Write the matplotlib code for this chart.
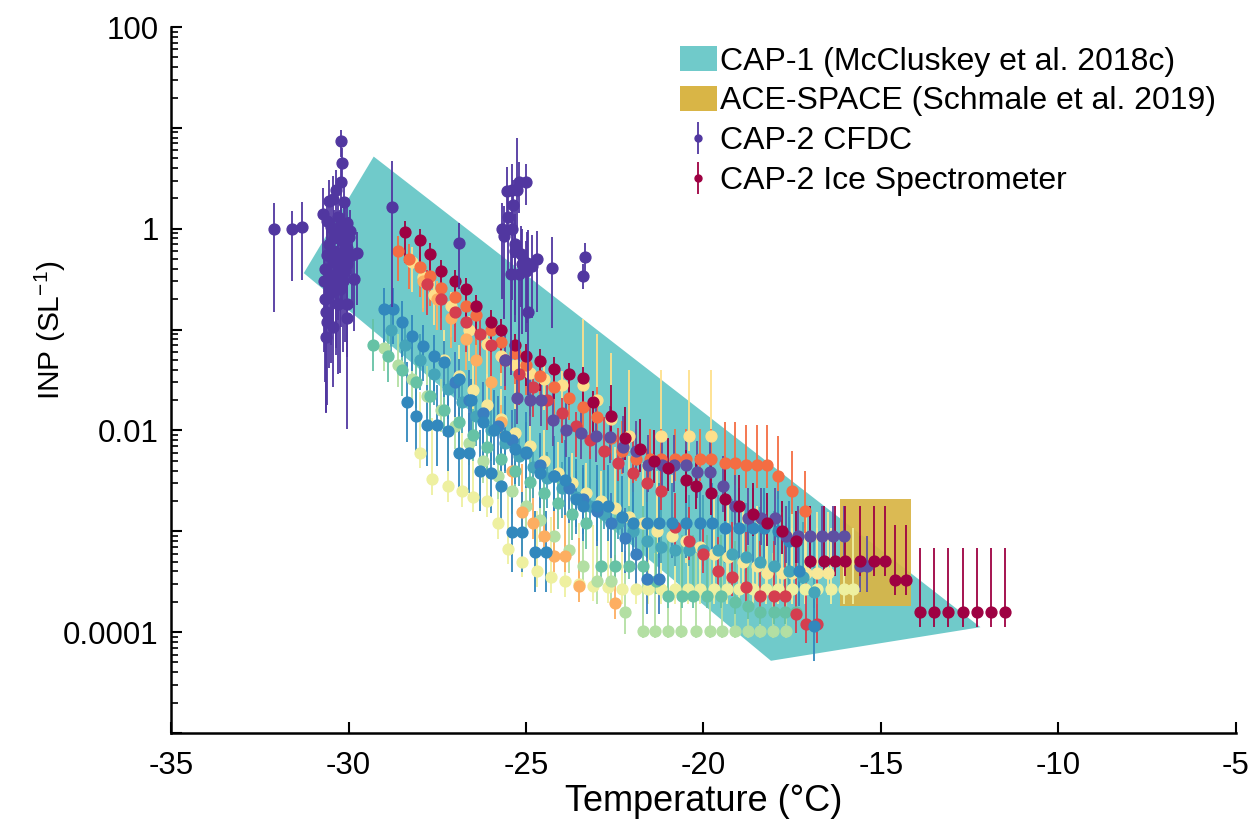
import numpy as np
import matplotlib
matplotlib.use('Agg')
import matplotlib.pyplot as plt
from matplotlib.patches import Polygon, Rectangle, Patch
from matplotlib.ticker import FixedLocator, LogLocator, NullFormatter

plt.rcParams['font.family'] = ['Liberation Sans', 'DejaVu Sans']
plt.rcParams['mathtext.fontset'] = 'custom'
plt.rcParams['mathtext.rm'] = 'Liberation Sans'
plt.rcParams['mathtext.default'] = 'regular'
plt.rcParams['axes.unicode_minus'] = False

# ---------------- data ----------------
cap1_T = [-29.29, -12.2, -18.1, -31.26]
cap1_V = [5.19, 1.12e-4, 5.2e-5, 0.363]
ace_T = [-16.15, -14.15]
ace_V = [1.8e-4, 2.07e-3]

# CAP-2 CFDC: temperature, INP, lower-bound factor, upper-bound factor
cfdc_t = [-30.20, -30.17, -30.20, -30.34, -30.45, -30.54, -30.73, -30.12, -32.10, -31.60,
          -31.30, -30.03, -29.98, -29.75, -29.84, -30.34, -30.17, -30.45, -30.48, -30.31,
          -30.03, -30.62, -30.03, -30.62, -30.45, -30.60, -30.50, -30.40, -30.30, -30.25,
          -30.15, -30.10, -30.05, -29.95, -30.55, -30.40, -30.30, -30.20, -30.10, -30.60,
          -30.65, -30.50, -30.35, -30.25, -30.55, -30.70, -30.15, -30.05, -29.90, -30.40,
          -30.20, -30.65, -30.60,
          -25.54, -25.40, -25.20, -25.01, -25.37, -25.63, -25.40, -25.32, -25.15, -24.98,
          -24.70, -24.84, -25.43, -25.20, -25.01, -24.28, -24.95, -25.50, -25.30, -25.10,
          -25.68, -25.26, -23.35, -23.40, -26.90, -28.77]
cfdc_v = [7.4, 4.5, 2.9, 2.4, 1.95, 1.9, 1.4, 1.86, 1.0, 1.0,
          1.03, 1.15, 0.82, 0.58, 0.32, 0.33, 0.58, 0.47, 0.235, 0.18,
          0.18, 0.148, 0.13, 0.085, 0.107, 1.2, 1.05, 0.95, 1.3, 0.9,
          0.75, 1.0, 0.65, 0.95, 0.7, 0.6, 0.5, 0.42, 0.38, 0.55,
          0.4, 0.35, 0.28, 0.25, 0.28, 0.3, 0.3, 0.45, 0.55, 0.8,
          1.1, 0.2, 0.12,
          2.39, 2.44, 2.89, 2.89, 1.70, 0.84, 0.99, 0.70, 0.56, 0.46,
          0.50, 0.43, 0.355, 0.355, 0.38, 0.41, 0.148, 1.30, 0.60, 0.45,
          1.00, 2.40, 0.52, 0.34, 0.72, 1.66]
cfdc_dn = [0.7, 0.6, 0.5, 0.5, 0.45, 0.5, 0.4, 0.5, 0.15, 0.3,
           0.3, 0.4, 0.35, 0.3, 0.3, 0.2, 0.3, 0.25, 0.2, 0.2,
           0.3, 0.1, 0.08, 0.18, 0.25, 0.4, 0.35, 0.35, 0.4, 0.3,
           0.3, 0.35, 0.3, 0.4, 0.3, 0.3, 0.25, 0.25, 0.2, 0.25,
           0.2, 0.2, 0.2, 0.15, 0.15, 0.2, 0.2, 0.25, 0.3, 0.3,
           0.35, 0.15, 0.15,
           0.4, 0.35, 0.5, 0.6, 0.3, 0.15, 0.2, 0.2, 0.3, 0.25,
           0.3, 0.3, 0.1, 0.1, 0.25, 0.25, 0.15, 0.3, 0.2, 0.2,
           0.2, 0.4, 0.7, 0.75, 0.35, 0.1]
cfdc_up = [1.3, 1.4, 1.6, 1.6, 1.7, 1.6, 1.8, 1.6, 1.8, 1.5,
           1.8, 1.6, 1.6, 1.6, 1.6, 1.8, 1.7, 1.7, 1.8, 2.0,
           1.8, 2.0, 2.0, 2.2, 2.0, 1.6, 1.6, 1.6, 1.6, 1.7,
           1.7, 1.6, 1.7, 1.6, 1.7, 1.7, 1.8, 1.8, 1.8, 1.8,
           1.8, 1.8, 1.9, 1.9, 1.9, 1.9, 1.9, 1.8, 1.7, 1.7,
           1.6, 2.0, 2.0,
           1.7, 1.8, 1.6, 1.5, 1.8, 2.0, 1.8, 2.0, 1.9, 2.0,
           1.9, 2.0, 2.0, 2.0, 2.0, 2.0, 6.5, 1.8, 2.5, 2.2,
           1.8, 3.3, 1.4, 1.3, 1.6, 2.85]

# CAP-2 Ice Spectrometer samples
t_dr = [-28.4, -28.0, -27.7, -27.4, -27.0, -26.7, -26.4, -26.0, -25.7, -25.3, -25.0, -24.6, -24.2,
        -23.8, -23.4, -23.1, -22.6, -22.2, -21.8, -21.4, -21.0, -20.5, -20.2, -19.8, -19.4, -19.0,
        -18.6, -18.2, -17.8, -17.4, -17.0, -16.6, -16.3, -16.0, -15.6, -15.2, -14.9, -14.6, -14.3,
        -13.9, -13.5, -13.1, -12.7, -12.3, -11.9, -11.5]
v_dr = [0.92, 0.77, 0.56, 0.38, 0.30, 0.25, 0.17, 0.12, 0.099, 0.070, 0.055, 0.049, 0.041,
        0.036, 0.033, 0.019, 0.014, 0.0085, 0.0065, 0.005, 0.0042, 0.0032, 0.0028, 0.0024, 0.0021,
        0.0018, 0.0015, 0.0012, 0.001, 8e-4, 5.1e-4, 5.1e-4, 5.1e-4, 5.1e-4, 5.1e-4, 5.1e-4, 5.1e-4,
        3.3e-4, 3.3e-4, 1.6e-4, 1.6e-4, 1.6e-4, 1.6e-4, 1.6e-4, 1.6e-4, 1.6e-4]
up_dr = [1.3] * 16 + [2.0] * 14 + [3.5] * 9 + [4.3] * 7
dn_dr = [0.5] * 16 + [0.6] * 14 + [0.7] * 16

t_cr = [-27.8, -27.4, -27.0, -26.7, -26.3, -26.0, -25.6, -25.2, -24.8, -24.4, -24.0, -23.6, -23.2,
        -22.8, -22.4, -22.0, -21.6, -21.2, -20.8, -20.4, -20.0, -19.6, -19.2, -18.8, -18.4, -18.0,
        -17.7, -17.4, -17.1, -16.8]
v_cr = [0.28, 0.2, 0.15, 0.12, 0.09, 0.07, 0.05, 0.036, 0.027, 0.02, 0.015, 0.011, 0.008,
        0.0062, 0.0048, 0.0038, 0.003, 0.0025, 0.0011, 8e-4, 6e-4, 4e-4, 3.5e-4, 2.8e-4, 2.3e-4,
        2.3e-4, 2.3e-4, 1.5e-4, 1.2e-4, 1.2e-4]
up_cr = [1.4] * 12 + [2.2] * 10 + [3.5] * 8
dn_cr = [0.5] * 12 + [0.65] * 18

t_or1 = [-28.6, -28.3, -28.0, -27.7, -27.4, -27.0, -26.7, -26.4, -26.0, -25.7, -25.3, -25.0, -24.6,
         -24.2, -23.8, -23.4, -23.0, -22.6, -22.3, -21.9, -21.5, -21.2, -20.8, -20.5, -20.1, -19.8,
         -19.4, -19.1, -18.8, -18.5, -18.2, -17.9, -17.5, -17.15]
v_or1 = [0.60, 0.5, 0.42, 0.34, 0.26, 0.21, 0.17, 0.14, 0.10, 0.075, 0.058, 0.045, 0.035,
         0.027, 0.021, 0.017, 0.0135, 0.0085, 0.0062, 0.0052, 0.0052, 0.0052, 0.0052, 0.0052, 0.0052,
         0.0052, 0.0048, 0.0048, 0.0045, 0.0045, 0.0045, 0.0035, 0.0025, 0.0016]
up_or1 = [1.4] * 14 + [2.0] * 12 + [2.5] * 8
dn_or1 = [0.5] * 14 + [0.6] * 20

t_or = [-27.9, -27.5, -27.1, -26.7, -26.4, -26.0, -25.7, -25.4, -25.1, -24.8, -24.5, -24.2, -23.9,
        -23.5, -22.5]
v_or = [0.3, 0.2, 0.13, 0.08, 0.05, 0.03, 0.012, 0.004, 0.00155, 0.0012, 8.9e-4, 5.7e-4, 5.7e-4,
        2.85e-4, 1.95e-4]
up_or = [1.5] * 7 + [3.0] * 8
dn_or = [0.5] * 7 + [0.7] * 8

t_y = [-28.2, -27.9, -27.6, -27.1, -26.6, -26.1, -25.7, -25.3, -24.9, -24.5, -24.0, -23.4, -23.0,
       -22.6, -22.1, -21.2, -20.4, -19.8]
v_y = [0.47, 0.33, 0.22, 0.17, 0.098, 0.072, 0.055, 0.045, 0.037, 0.032, 0.028, 0.028, 0.02,
       0.013, 0.0089, 0.0089, 0.0089, 0.0089]
up_y = [1.4] * 11 + [4.5] * 7
dn_y = [0.5] * 11 + [0.7] * 7

t_y2 = [-27.3, -26.9, -26.5, -26.1, -25.7, -25.3, -24.9, -24.5, -24.1, -23.7, -23.3, -22.9, -22.5,
        -22.1, -21.7, -21.3, -20.9, -20.5, -20.1, -19.7, -19.3, -18.9, -18.5, -18.2, -17.8, -17.5,
        -17.1, -16.8, -16.5]
v_y2 = [0.05, 0.035, 0.025, 0.018, 0.013, 0.0095, 0.007, 0.005, 0.0038, 0.003, 0.0024, 0.002,
        0.0017, 0.0014, 0.0012, 0.001, 9e-4, 8e-4, 7e-4, 6e-4, 5.5e-4, 5e-4, 4.5e-4, 3.9e-4,
        3.9e-4, 3.9e-4, 3.9e-4, 3.9e-4, 3.9e-4]
up_y2 = [2.0] * 12 + [4.0] * 17
dn_y2 = [0.6] * 29

t_yg = [-28.0, -27.65, -27.2, -26.8, -26.5, -26.1, -25.8, -25.5, -25.1, -24.7, -24.3, -23.9, -23.5,
        -23.1, -22.7, -22.3, -21.9, -21.55, -21.2, -20.8, -20.45, -20.1, -19.7, -19.35, -19.0,
        -18.6, -18.25, -17.9, -17.5, -17.15, -16.8, -16.4, -16.05, -15.8]
v_yg = [0.006, 0.0033, 0.0028, 0.0025, 0.0022, 0.002, 0.0012, 6.7e-4, 5e-4, 4e-4, 3.5e-4, 3.2e-4,
        3e-4, 2.9e-4, 2.8e-4] + [2.7e-4] * 19
up_yg = [4.0] * 34
dn_yg = [0.7] * 34

t_lg = [-29.0, -28.6, -28.2, -27.8, -27.4, -27.0, -26.6, -26.2, -25.8, -25.4, -25.0, -24.6, -24.2,
        -23.8, -23.4, -23.0, -22.6, -22.2, -21.7, -21.36, -20.99, -20.63, -20.21, -19.82, -19.48,
        -19.11, -18.75, -18.41, -18.05, -17.68]
v_lg = [0.065, 0.045, 0.032, 0.022, 0.016, 0.011, 0.0075, 0.005, 0.0035, 0.0025, 0.0018, 0.0013,
        9e-4, 6.5e-4, 4.5e-4, 3.2e-4, 3.2e-4, 1.6e-4] + [1.02e-4] * 12
up_lg = [2.0] * 10 + [4.0] * 8 + [6.0] * 12
dn_lg = [0.6] * 18 + [0.85] * 12

t_te = [-29.3, -28.9, -28.5, -28.1, -27.7, -27.3, -26.9, -26.5, -26.1, -25.7, -25.3, -24.9, -24.5,
        -24.1, -23.7, -23.3, -22.9, -22.5, -22.1, -21.7, -21.35, -21.0, -20.6, -20.3, -19.9, -19.5,
        -19.1, -18.75, -18.4, -18.0, -17.7, -17.4]
v_te = [0.07, 0.055, 0.04, 0.03, 0.022, 0.016, 0.012, 0.009, 0.0068, 0.0052, 0.004, 0.0031, 0.0024,
        0.0019, 0.0015, 0.0012, 4.5e-4, 4.5e-4, 4.5e-4, 4.5e-4, 3.2e-4, 2.3e-4, 2.3e-4, 2.3e-4,
        2.3e-4, 2.3e-4, 2.0e-4, 1.8e-4, 1.6e-4, 1.6e-4, 1.6e-4, 1.6e-4]
up_te = [1.8] * 16 + [4.0] * 16
dn_te = [0.55] * 16 + [0.75] * 16

t_t2 = [-28.8, -28.4, -28.0, -27.6, -27.2, -26.8, -26.4, -26.0, -25.6, -25.2, -24.8, -24.4, -24.0,
        -23.6, -23.2, -22.8, -22.4, -22.0, -21.6, -21.2, -20.8, -20.4, -20.0, -19.6, -19.2, -18.8,
        -18.4, -18.0, -17.6, -17.2, -16.9]
v_t2 = [0.1, 0.07, 0.05, 0.036, 0.026, 0.019, 0.014, 0.01, 0.0075, 0.0056, 0.0043, 0.0034, 0.0027,
        0.0022, 0.0018, 0.0015, 0.0012, 0.001, 8e-4, 7e-4, 6.5e-4, 6.5e-4, 6.5e-4, 6.5e-4, 6e-4,
        5.5e-4, 5e-4, 4.5e-4, 4e-4, 3.5e-4, 2.5e-4]
up_t2 = [1.8] * 14 + [3.5] * 17
dn_t2 = [0.5] * 14 + [0.7] * 17

t_b1 = [-28.35, -28.1, -27.8, -27.5, -27.2, -26.9, -26.6, -26.3, -26.0, -25.7, -25.4, -25.1,
        -24.75, -24.45]
v_b1 = [0.019, 0.014, 0.0112, 0.0112, 0.0098, 0.006, 0.006, 0.004, 0.0038, 0.0028, 9.8e-4, 9.8e-4,
        6.3e-4, 6.3e-4]
up_b1 = [2.5] * 14
dn_b1 = [0.4] * 14

t_b2 = [-29.0, -28.75, -28.5, -28.2, -27.9, -27.6, -27.3, -26.9, -26.55, -26.2, -25.9, -25.6, -25.3,
        -25.0, -24.6, -24.2, -23.9, -23.6, -23.4, -23.0, -22.7, -22.3, -22.0, -21.6, -21.25, -20.9,
        -20.5, -20.1, -19.75, -19.4, -19.0, -18.6, -18.3, -17.9, -17.6, -17.3, -16.9]
v_b2 = [0.16, 0.16, 0.12, 0.087, 0.069, 0.055, 0.048, 0.032, 0.02, 0.0121, 0.0101, 0.0088, 0.0065,
        0.0061, 0.0038, 0.0035, 0.0032, 0.0021, 0.0018, 0.0018, 0.0018, 0.0014, 0.0012, 0.0012,
        0.0012, 0.0012, 0.0012, 0.0012, 0.0012, 0.00107, 0.00107, 0.00107, 0.00107, 0.001, 8e-4,
        4e-4, 1.15e-4]
up_b2 = [1.6] * 10 + [2.5] * 27
dn_b2 = [0.45] * 37

t_b3 = [-27.0, -26.6, -26.2, -25.8, -25.4, -25.0, -24.6, -24.2, -23.8, -23.4, -23.0, -22.6, -22.2,
        -21.9, -21.6, -21.25]
v_b3 = [0.03, 0.02, 0.015, 0.011, 0.008, 0.006, 0.0045, 0.0035, 0.0027, 0.0021, 0.0016, 0.0012,
        8.5e-4, 6e-4, 3.4e-4, 3.4e-4]
up_b3 = [2.0] * 16
dn_b3 = [0.45] * 16

t_p1 = [-25.6, -25.26, -24.9, -24.59, -24.25, -23.86, -23.45, -23.04, -22.62, -22.26, -21.9, -21.56,
        -21.16, -20.83, -20.49, -20.18, -19.82, -19.45, -19.11, -18.75, -18.38, -17.99, -17.68,
        -17.35, -17.0, -16.67, -16.34, -16.03, -15.6, -15.4]
v_p1 = [0.05, 0.021, 0.02, 0.02, 0.0126, 0.01, 0.0095, 0.0089, 0.0087, 0.0069, 0.0062, 0.0045,
        0.0045, 0.0045, 0.0045, 0.0039, 0.0039, 0.0028, 0.0018, 0.00134, 0.00134, 0.00134, 8.9e-4,
        8.9e-4, 8.9e-4, 8.9e-4, 8.9e-4, 8.9e-4, 4.5e-4, 4.5e-4]
up_p1 = [2.0] * 30
dn_p1 = [0.55] * 30

x_ticks = [-35, -30, -25, -20, -15, -10, -5]
x_ticklabels = ['-35', '-30', '-25', '-20', '-15', '-10', '-5']
y_ticks = [1e-5, 1e-4, 1e-3, 1e-2, 1e-1, 1, 10, 100]
y_ticklabels = ['', '0.0001', '', '0.01', '', '1', '', '100']

legend_labels = ['CAP-1 (McCluskey et al. 2018c)', 'ACE-SPACE (Schmale et al. 2019)',
                 'CAP-2 CFDC', 'CAP-2 Ice Spectrometer']

# ---------------- styling ----------------
c_cap1 = '#70caca'
c_ace = '#d9b546'
c_cfdc = '#5137a0'
is_series = [
    (t_yg, v_yg, up_yg, dn_yg, '#eef0a0'),
    (t_lg, v_lg, up_lg, dn_lg, '#b3dfa3'),
    (t_y2, v_y2, up_y2, dn_y2, '#f8e898'),
    (t_y, v_y, up_y, dn_y, '#fee08b'),
    (t_or, v_or, up_or, dn_or, '#fdae61'),
    (t_te, v_te, up_te, dn_te, '#66c2a5'),
    (t_t2, v_t2, up_t2, dn_t2, '#45a5ba'),
    (t_or1, v_or1, up_or1, dn_or1, '#f46d43'),
    (t_cr, v_cr, up_cr, dn_cr, '#d53e4f'),
    (t_b1, v_b1, up_b1, dn_b1, '#3288bd'),
    (t_b3, v_b3, up_b3, dn_b3, '#3a7fc0'),
    (t_b2, v_b2, up_b2, dn_b2, '#3288bd'),
    (t_p1, v_p1, up_p1, dn_p1, '#5e4fa2'),
    (t_dr, v_dr, up_dr, dn_dr, '#9e0142'),
]

fig = plt.figure(figsize=(12.51, 8.26), dpi=100)
ax = fig.add_axes([0.1367, 0.1126, 0.8513, 0.8547])
ax.set_yscale('log')

poly = Polygon(np.column_stack([cap1_T, cap1_V]), closed=True, facecolor=c_cap1,
               edgecolor='none', zorder=1)
ax.add_patch(poly)
rect = Rectangle((ace_T[0], ace_V[0]), ace_T[1] - ace_T[0], ace_V[1] - ace_V[0],
                 facecolor=c_ace, edgecolor='none', alpha=0.93, zorder=2)
ax.add_patch(rect)

for t, v, up, dn, col in is_series:
    v = np.asarray(v, float)
    lo = v - v * np.asarray(dn)
    hi = v * np.asarray(up) - v
    ax.errorbar(t, v, yerr=[lo, hi], fmt='o', color=col, ms=7.8, mec=col, mfc=col,
                elinewidth=1.3, capsize=0, zorder=3)

cv = np.asarray(cfdc_v, float)
ax.errorbar(cfdc_t, cv, yerr=[cv - cv * np.asarray(cfdc_dn), cv * np.asarray(cfdc_up) - cv],
            fmt='o', color=c_cfdc, ms=7.8, elinewidth=1.3, capsize=0, zorder=4)

ax.set_xlim(-35, -5)
ax.set_ylim(1e-5, 100)
ax.xaxis.set_major_locator(FixedLocator(x_ticks))
ax.set_xticklabels(x_ticklabels)
ax.yaxis.set_major_locator(FixedLocator(y_ticks))
ax.set_yticklabels(y_ticklabels)
ax.yaxis.set_minor_locator(LogLocator(base=10, subs=np.arange(2, 10), numticks=100))
ax.yaxis.set_minor_formatter(NullFormatter())

for s in ['top', 'right']:
    ax.spines[s].set_visible(False)
for s in ['left', 'bottom']:
    ax.spines[s].set_linewidth(1.8)
ax.tick_params(axis='both', which='major', direction='in', length=8, width=1.5,
               labelsize=22.5)
ax.tick_params(axis='x', which='major', pad=13)
ax.tick_params(axis='y', which='major', pad=9)
ax.tick_params(axis='y', which='minor', direction='in', length=5, width=1.2)

ax.set_xlabel('Temperature (°C)', fontsize=26, labelpad=2)
ax.set_ylabel('INP (SL$^{-1}$)', fontsize=21.5)
ax.yaxis.set_label_coords(-0.097, 0.57)

# legend proxies
h1 = Patch(facecolor=c_cap1, edgecolor='none')
h2 = Patch(facecolor=c_ace, edgecolor='none')
h3 = ax.errorbar([np.nan], [np.nan], yerr=[[0], [0]], fmt='o', color=c_cfdc, ms=5, elinewidth=1.3)
h4 = ax.errorbar([np.nan], [np.nan], yerr=[[0], [0]], fmt='o', color='#9e0142', ms=5, elinewidth=1.3)
leg = fig.legend([h1, h2, h3, h4], legend_labels, loc='upper left',
                 bbox_to_anchor=(0.5436, 0.944), frameon=False, fontsize=23,
                 handlelength=1.15, handleheight=0.8, handletextpad=0.1,
                 labelspacing=0.3, borderpad=0, borderaxespad=0)

fig.savefig('out.png', dpi=100)
